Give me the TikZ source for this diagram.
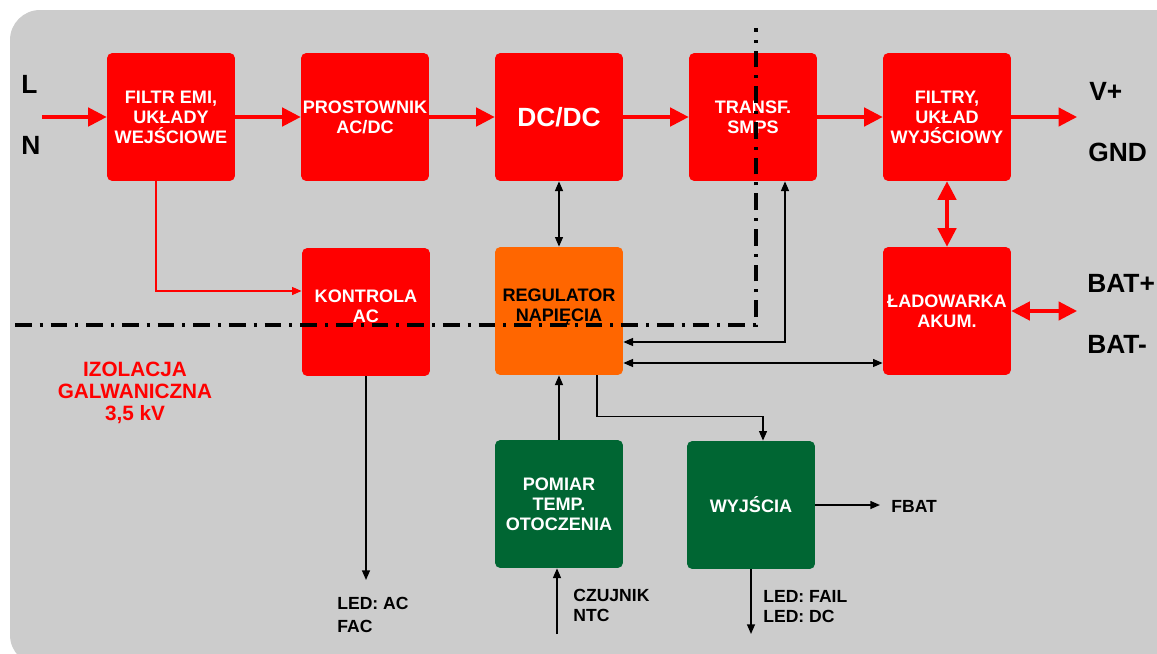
\documentclass[tikz,border=0pt]{standalone}
\usepackage{fontspec}
\setmainfont{Liberation Sans}
\usepackage{tikz}
\usetikzlibrary{
  positioning,
  arrows.meta,
  calc
}
\definecolor{tlo}{HTML}{CCCCCC}
\definecolor{czerwony}{HTML}{FF0000}
\definecolor{pomarancz}{HTML}{FF6600}
\definecolor{zielony}{HTML}{006633}
\tikzset{
  >=Latex,
  blok/.style={rectangle,rounded corners=3pt,minimum width=2.56cm,minimum height=2.56cm,align=center,inner sep=1pt,font=\fontsize{10.3}{11.4}\selectfont\bfseries,text=white},
  redblok/.style={blok,fill=czerwony},
  greenblok/.style={blok,fill=zielony},
  regblok/.style={blok,fill=pomarancz,text=black},
  moc/.style={czerwony,line width=1.8pt,-{Triangle[length=10.5pt,width=10.5pt]}},
  moc2/.style={czerwony,line width=1.8pt,{Triangle[length=10.5pt,width=10.5pt]}-{Triangle[length=10.5pt,width=10.5pt]}},
  sygnal/.style={line width=0.9pt,-{Triangle[length=5.5pt,width=4.5pt]}},
  sygnal2/.style={line width=0.9pt,{Triangle[length=5.5pt,width=4.5pt]}-{Triangle[length=5.5pt,width=4.5pt]}},
  redsygnal/.style={czerwony,line width=0.9pt,-{Triangle[length=5.5pt,width=4.5pt]}},
  izolinia/.style={line width=2pt,dash pattern=on 9.5pt off 4.5pt on 1.8pt off 4.5pt},
  zacisk/.style={anchor=west,inner sep=0pt,font=\fontsize{15}{18}\selectfont\bfseries},
  opis/.style={anchor=west,inner sep=0pt,align=left,font=\fontsize{10}{11.4}\selectfont\bfseries}
}

\begin{document}
\begin{tikzpicture}[x=0.02cm,y=-0.02cm]
    \useasboundingbox (0,0) rectangle (1157,653);
    \begin{scope}
        \clip (0,0) rectangle (1157,653);
        \fill[tlo,rounded corners=0.6cm] (10,10) rectangle (1200,665);
    \end{scope}

    % tor mocy
    \node[redblok] (emi) at (171,117) {FILTR EMI,\\UKŁADY\\WEJŚCIOWE};
    \node[redblok] (prost) at (365,117) {PROSTOWNIK\\AC/DC};
    \node[redblok,font=\fontsize{15}{18}\selectfont\bfseries] (dcdc) at (559,117) {DC/DC};
    \node[redblok] (transf) at (753,117) {TRANSF.\\SMPS};
    \node[redblok] (filtry) at (947,117) {FILTRY,\\UKŁAD\\WYJŚCIOWY};

    % sterowanie
    \node[redblok] (kontrola) at (366,312) {KONTROLA\\AC\\[-5pt]\mbox{}};
    \node[regblok] (regulator) at (559,311) {REGULATOR\\NAPIĘCIA\\[-5pt]\mbox{}};
    \node[redblok] (ladowarka) at (947,311) {ŁADOWARKA\\AKUM.};
    \node[greenblok] (pomiar) at (559,504) {POMIAR\\TEMP.\\OTOCZENIA};
    \node[greenblok] (wyjscia) at (751,505) {WYJŚCIA};

    % zaciski i opisy
    \node[zacisk] (zl) at (21,84) {L};
    \node[zacisk] (zn) at (21,145) {N};
    \node[zacisk] (vplus) at (1089,91) {V+};
    \node[zacisk] (gnd) at (1088,152) {GND};
    \node[zacisk] (batp) at (1087,283) {BAT+};
    \node[zacisk] (batm) at (1087,344) {BAT-};
    \node[czerwony,align=center,inner sep=0pt,font=\fontsize{11.8}{12.6}\selectfont\bfseries] (izolacja) at (135,393) {IZOLACJA\\GALWANICZNA\\3,5 kV};
    \node[opis] (ledac) at (337,615) {LED: AC\\[2pt]FAC};
    \node[opis] (czujnik) at (573,605) {CZUJNIK\\NTC};
    \node[opis] (fbat) at (891,506) {FBAT};
    \node[opis] (ledfail) at (763,607) {LED: FAIL\\LED: DC};

    \coordinate (wejscie) at (42,117);
    \coordinate (wyjscie) at (1077,117);
    \coordinate (bat) at (1077,311);
    \coordinate (ledackon) at (366,580);
    \coordinate (ntc) at (557,634);
    \coordinate (fbatkon) at (880,505);
    \coordinate (leddckon) at (751,634);
    \coordinate (izo1) at (15,325);
    \coordinate (izo2) at (756,28);

    \draw[moc] (wejscie) -- (emi);
    \draw[moc] (emi) -- (prost);
    \draw[moc] (prost) -- (dcdc);
    \draw[moc] (dcdc) -- (transf);
    \draw[moc] (transf) -- (filtry);
    \draw[moc] (filtry) -- (wyjscie);
    \draw[moc2] (filtry) -- (ladowarka);
    \draw[moc2] (ladowarka) -- (bat);

    \draw[redsygnal] ([xshift=-0.3cm]emi.south) |- ([yshift=0.42cm]kontrola.west);
    \draw[sygnal2] (dcdc) -- (regulator);
    \draw[sygnal2] ([yshift=-0.62cm]regulator.east) -| ([xshift=0.64cm]transf.south);
    \draw[sygnal2] ([yshift=-1.04cm]regulator.east) -- ([yshift=-1.04cm]ladowarka.west);
    \draw[sygnal] ([xshift=0.76cm]regulator.south) |- ([xshift=0.24cm,yshift=0.48cm]wyjscia.north) -- ([xshift=0.24cm]wyjscia.north);
    \draw[sygnal] (pomiar) -- (regulator);
    \draw[sygnal] (kontrola) -- (ledackon);
    \draw[sygnal] (ntc) -- (ntc |- pomiar.south);
    \draw[sygnal] (wyjscia) -- (fbatkon);
    \draw[sygnal] (wyjscia) -- (leddckon);

    % bariera izolacji
    \draw[izolinia] (izo1) -| (izo2);
\end{tikzpicture}
\end{document}
